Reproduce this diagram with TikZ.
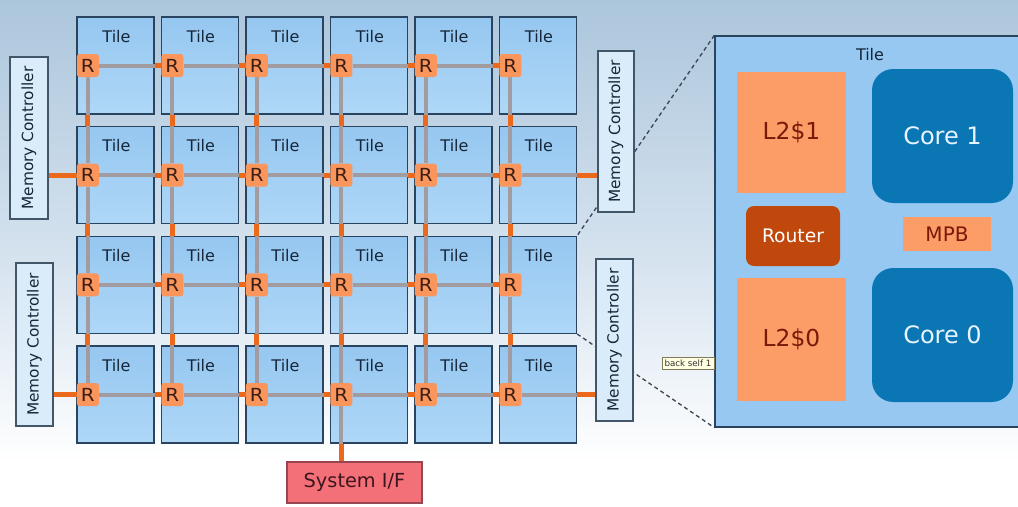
\documentclass[tikz,border=0pt]{standalone}
\usepackage{fontspec}
\usepackage{graphicx}
\setmainfont{DejaVu Sans}
\usetikzlibrary{calc}
\definecolor{bgtop}{RGB}{172,198,220}
\definecolor{bgmid}{RGB}{214,227,239}
\definecolor{tiletop}{RGB}{150,199,240}
\definecolor{tilebot}{RGB}{174,215,247}
\definecolor{tileborder}{RGB}{42,68,96}
\definecolor{textnavy}{RGB}{22,38,58}
\definecolor{rorange}{RGB}{250,150,92}
\definecolor{rtext}{RGB}{60,30,20}
\definecolor{linkorange}{RGB}{236,104,26}
\definecolor{meshgray}{RGB}{162,156,160}
\definecolor{mcfill}{RGB}{218,236,250}
\definecolor{mcborder}{RGB}{66,86,106}
\definecolor{sysfill}{RGB}{244,112,120}
\definecolor{sysborder}{RGB}{150,70,80}
\definecolor{systext}{RGB}{60,22,30}
\definecolor{bigfill}{RGB}{150,200,242}
\definecolor{coreblue}{RGB}{10,118,180}
\definecolor{coretext}{RGB}{232,244,255}
\definecolor{l2orange}{RGB}{252,156,102}
\definecolor{l2text}{RGB}{120,26,10}
\definecolor{routerred}{RGB}{192,72,12}
\definecolor{dashcol}{RGB}{60,70,86}
\definecolor{tipfill}{RGB}{255,255,226}
\definecolor{tipborder}{RGB}{130,120,90}
\pgfdeclarelayer{back}
\pgfdeclarelayer{mid}
\pgfsetlayers{back,mid,main}
\begin{document}
\begin{tikzpicture}[x=0.75pt,y=-0.75pt,
  tilebox/.style={draw=tileborder,line width=1pt,top color=tiletop,bottom color=tilebot,
    minimum width=57.75pt,minimum height=72.75pt,inner sep=0pt},
  tiletext/.style={text=textnavy,font=\fontsize{12}{13}\selectfont,inner sep=0pt},
  rbox/.style={fill=rorange,rounded corners=2pt,minimum width=16.5pt,minimum height=17.25pt,
    inner sep=0pt,text=rtext,font=\fontsize{13.5}{14}\selectfont},
  grayline/.style={draw=meshgray,line width=3pt},
  orangelink/.style={draw=linkorange,line width=3.6pt},
  mclink/.style={draw=linkorange,line width=3.8pt},
  mcbox/.style={draw=mcborder,fill=mcfill,line width=1pt,inner sep=0pt,text=textnavy,
    font=\fontsize{11.5}{13}\selectfont},
  dashline/.style={draw=dashcol,line width=1pt,dash pattern=on 3pt off 2.4pt},
  corebox/.style={fill=coreblue,rounded corners=16pt,minimum width=105.75pt,minimum height=100.5pt,
    inner sep=0pt,text=coretext,font=\fontsize{18}{20}\selectfont},
  l2box/.style={fill=l2orange,minimum width=81.75pt,inner sep=0pt,text=l2text,
    font=\fontsize{17.5}{20}\selectfont}
]
\useasboundingbox (0,0) rectangle (1018,507);
\begin{pgfonlayer}{back}
  \shade[top color=bgtop,bottom color=bgmid] (0,0) rectangle (1018,262);
  \shade[top color=bgmid,bottom color=white] (0,261) rectangle (1018,462);
  \fill[white] (0,461) rectangle (1018,507);
  \foreach \r in {1,...,4}{
    \foreach \c in {1,...,6}{
      \pgfmathsetmacro\xx{115.5+84.5*(\c-1)}
      \pgfmathsetmacro\yy{65.5+109.67*(\r-1)}
      \node[tilebox] (t\r\c) at (\xx,\yy) {};
    }
  }
\end{pgfonlayer}
% routers and tile labels
\foreach \r in {1,...,4}{
  \foreach \c in {1,...,6}{
    \node[tiletext] (tl\r\c) at ($(t\r\c.north)+(1,20)$) {Tile};
    \node[rbox] (R\r\c) at ($(t\r\c.west)+(11.5,0)$) {\scalebox{1.1}[1]{R}};
  }
}
% memory controllers
\node[mcbox,minimum width=28.5pt,minimum height=121.5pt] (mcL1) at (29,138) {\rotatebox{90}{Memory Controller}};
\node[mcbox,minimum width=27.75pt,minimum height=122.25pt] (mcL2) at (34.5,344.5) {\rotatebox{90}{Memory Controller}};
\node[mcbox,minimum width=27pt,minimum height=120.75pt] (mcR1) at (616,131.5) {\rotatebox{90}{Memory Controller}};
\node[mcbox,minimum width=27.75pt,minimum height=121.5pt] (mcR2) at (614.5,340) {\rotatebox{90}{Memory Controller}};
% system interface
\node[draw=sysborder,fill=sysfill,line width=1pt,minimum width=101.25pt,minimum height=30.75pt,
  inner sep=0pt,text=systext,font=\fontsize{14.5}{16}\selectfont] (sys) at (354.5,482.5) {System I/F};
% enlarged tile
\node[draw=tileborder,fill=bigfill,line width=1pt,minimum width=228.75pt,minimum height=293.25pt,
  inner sep=0pt] (big) at (867.5,231.5) {};
\node[tiletext] (bigl) at (870,55) {Tile};
\node[l2box,minimum height=90.75pt] (l21) at (791.5,132.5) {L2\$1};
\node[l2box,minimum height=92.25pt] (l20) at (791.5,339.5) {L2\$0};
\node[corebox] (c1) at (942.5,136) {Core 1};
\node[corebox] (c0) at (942.5,335) {Core 0};
\node[fill=routerred,rounded corners=6pt,minimum width=70.5pt,minimum height=45pt,inner sep=0pt,
  text=white,font=\fontsize{14}{16}\selectfont] (router) at (793,236) {Router};
\node[fill=l2orange,minimum width=66pt,minimum height=25.5pt,inner sep=0pt,text=l2text,
  font=\fontsize{15}{17}\selectfont] (mpb) at (947,234) {MPB};
\node[draw=tipborder,fill=tipfill,line width=0.5pt,minimum width=39pt,minimum height=9pt,inner sep=0pt,
  text=black!80,font=\fontsize{6.5}{7}\selectfont] (tip) at (688,363) {back self 1};
% mesh links
\begin{pgfonlayer}{mid}
  \draw[dashline] (big.north west) -- (t36.north east);
  \draw[dashline] (t36.south east) -- (big.south west);
  \foreach \r in {1,...,4}{
    \foreach \c [evaluate=\c as \n using int(\c+1)] in {1,...,5}{
      \draw[grayline] (R\r\c) -- (R\r\n);
      \draw[orangelink] (t\r\c.east) -- (R\r\n.west);
    }
  }
  \foreach \r [evaluate=\r as \n using int(\r+1)] in {1,...,3}{
    \foreach \c in {1,...,6}{
      \draw[grayline] (R\r\c) -- (R\n\c);
      \draw[orangelink] (R\r\c |- t\r\c.south) -- (R\r\c |- t\n\c.north);
    }
  }
  \draw[grayline] (R26) -- (t26.east);
  \draw[grayline] (R46) -- (t46.east);
  \draw[mclink] (t26.east) -- (t26.east -| mcR1.west);
  \draw[mclink] (t46.east) -- (t46.east -| mcR2.west);
  \draw[mclink] (mcL1.east |- R21) -- (R21.west);
  \draw[mclink] (mcL2.east |- R41) -- (R41.west);
  \draw[grayline] (R44) -- (R44 |- t44.south);
  \draw[mclink] (R44 |- t44.south) -- (R44 |- sys.north);
\end{pgfonlayer}
\end{tikzpicture}
\end{document}
